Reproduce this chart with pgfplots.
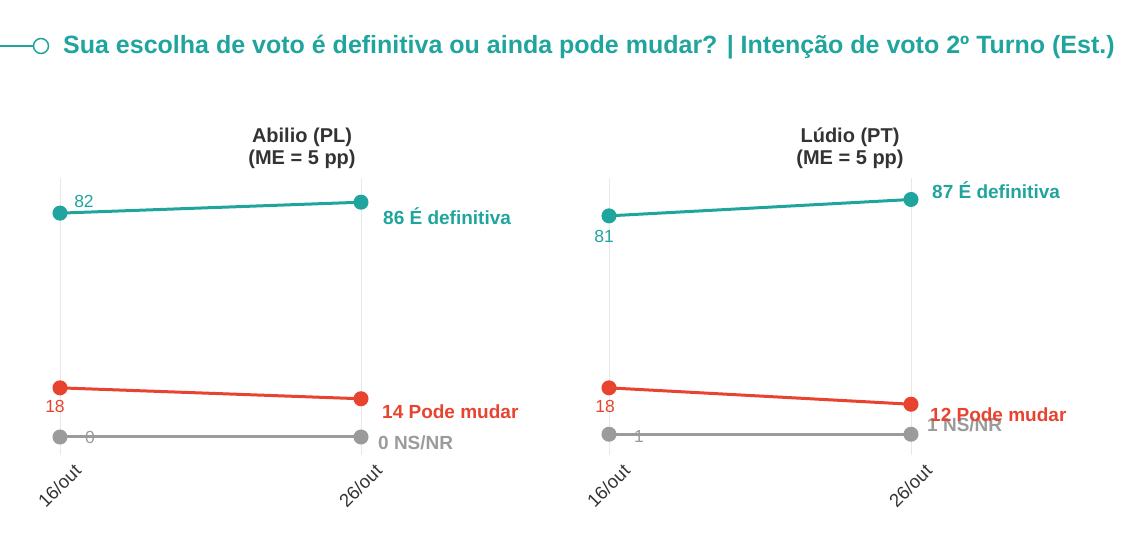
\documentclass[border=0pt]{standalone}
\usepackage{fontspec}
\setmainfont{Liberation Sans}
\usepackage{pgfplots}
\pgfplotsset{compat=1.18}

\definecolor{teal1}{RGB}{32,165,158}
\definecolor{red1}{RGB}{232,67,46}
\definecolor{gray1}{RGB}{155,155,155}
\definecolor{dark1}{RGB}{51,51,51}

\pgfplotsset{
  panel/.style={
    anchor=south west,
    x=301pt, y=2.73pt,
    xmin=0, xmax=1, ymin=-6.6, ymax=94.9,
    clip=false,
    axis line style={draw=none},
    major tick length=0pt,
    ytick=\empty,
    xtick={0,1},
    xticklabels={16/out,26/out},
    xmajorgrids,
    grid style={line width=1pt, color=black!9},
    xticklabel style={font=\fontsize{18.5pt}{20pt}\selectfont, text=dark1,
      xshift=20pt, yshift=-10pt, rotate=45, anchor=east},
  },
  every axis plot/.append style={line width=3pt, mark=*, mark size=6pt},
}

\begin{document}
\begin{tikzpicture}
\useasboundingbox (0pt,0pt) rectangle (1138pt,539pt);

% title
\draw[teal1, line width=1.5pt] (0pt,493pt) -- (33pt,493pt);
\draw[teal1, line width=1.5pt, fill=white] (41pt,493pt) circle (7.5pt);
\node[anchor=base west, inner sep=0, text=teal1] at (63pt,485pt)
  {\fontsize{25pt}{28pt}\selectfont\bfseries Sua escolha de voto é definitiva ou ainda pode mudar? | Intenção de voto 2º Turno (Est.)};

% left panel
\node[align=center, text=dark1, font=\fontsize{20pt}{22pt}\selectfont\bfseries] at (302pt,391pt) {Abilio (PL)\\(ME = 5 pp)};
\begin{axis}[panel, at={(60pt,84pt)}]
\addplot[teal1, mark options={fill=teal1}] coordinates {(0,82) (1,86)};
\addplot[red1, mark options={fill=red1}] coordinates {(0,18) (1,14)};
\addplot[gray1, mark options={fill=gray1}] coordinates {(0,0) (1,0)};
\node[text=teal1, font=\fontsize{17.5pt}{19pt}\selectfont] at (axis cs:0,82) [xshift=24pt, yshift=12pt] {82};
\node[text=red1, font=\fontsize{17.5pt}{19pt}\selectfont] at (axis cs:0,18) [xshift=-5pt, yshift=-19pt] {18};
\node[text=gray1, font=\fontsize{17.5pt}{19pt}\selectfont] at (axis cs:0,0) [xshift=30pt] {0};
\node[anchor=west, inner sep=0, text=teal1, font=\fontsize{19pt}{20pt}\selectfont\bfseries] at (axis cs:1,86) [xshift=22pt, yshift=-14pt] {86 É definitiva};
\node[anchor=west, inner sep=0, text=red1, font=\fontsize{19pt}{20pt}\selectfont\bfseries] at (axis cs:1,14) [xshift=21pt, yshift=-13pt] {14 Pode mudar};
\node[anchor=west, inner sep=0, text=gray1, font=\fontsize{19pt}{20pt}\selectfont\bfseries] at (axis cs:1,0) [xshift=17pt, yshift=-6pt] {0 NS/NR};
\end{axis}

% right panel
\node[align=center, text=dark1, font=\fontsize{20pt}{22pt}\selectfont\bfseries] at (850pt,391pt) {Lúdio (PT)\\(ME = 5 pp)};
\begin{axis}[panel, at={(609pt,84pt)}, x=302pt]
\addplot[teal1, mark options={fill=teal1}] coordinates {(0,81) (1,87)};
\addplot[gray1, mark options={fill=gray1}] coordinates {(0,1) (1,1)};
\addplot[red1, mark options={fill=red1}] coordinates {(0,18) (1,12)};
\node[text=teal1, font=\fontsize{17.5pt}{19pt}\selectfont] at (axis cs:0,81) [xshift=-5pt, yshift=-21pt] {81};
\node[text=red1, font=\fontsize{17.5pt}{19pt}\selectfont] at (axis cs:0,18) [xshift=-4pt, yshift=-19pt] {18};
\node[text=gray1, font=\fontsize{17.5pt}{19pt}\selectfont] at (axis cs:0,1) [xshift=30pt, yshift=-2pt] {1};
\node[anchor=west, inner sep=0, text=teal1, font=\fontsize{19pt}{20pt}\selectfont\bfseries] at (axis cs:1,87) [xshift=21pt, yshift=9pt] {87 É definitiva};
\node[anchor=west, inner sep=0, text=gray1, font=\fontsize{19pt}{20pt}\selectfont\bfseries] at (axis cs:1,1) [xshift=16pt, yshift=9pt] {1 NS/NR};
\node[anchor=west, inner sep=0, text=red1, font=\fontsize{19pt}{20pt}\selectfont\bfseries] at (axis cs:1,12) [xshift=19pt, yshift=-10pt] {12 Pode mudar};
\end{axis}
\end{tikzpicture}
\end{document}
